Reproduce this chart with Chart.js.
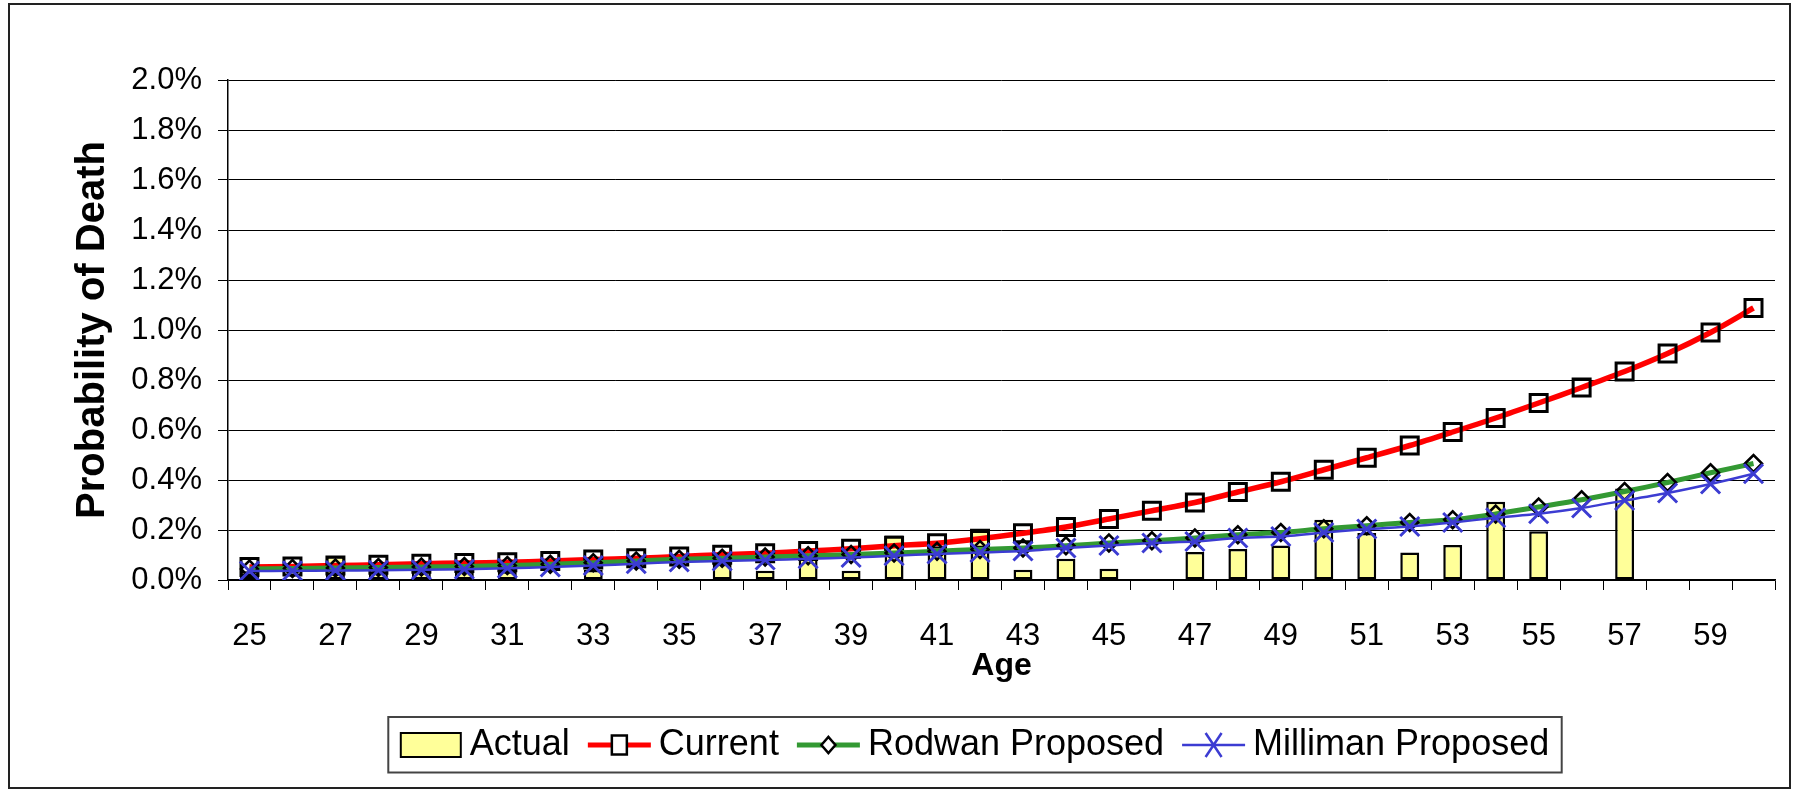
<!DOCTYPE html>
<html>
<head>
<meta charset="utf-8">
<title>Probability of Death by Age</title>
<script src="https://cdn.jsdelivr.net/npm/chart.js@4/dist/chart.umd.min.js"></script>
<style>
  html, body { margin: 0; padding: 0; background: #fff; }
  #wrap { width: 1799px; height: 792px; }
</style>
</head>
<body>
<div id="wrap"><canvas id="chart" width="1799" height="792"></canvas></div>
<script>
// Ages on the horizontal axis
const ages = ['25','26','27','28','29','30','31','32','33','34',
              '35','36','37','38','39','40','41','42','43','44',
              '45','46','47','48','49','50','51','52','53','54',
              '55','56','57','58','59','60'];

// Probability of death, in percent
const actual = [0.035, null, 0.095, 0.045, 0.045, 0.035, 0.035, null, 0.040, null,
                null, 0.065, 0.037, 0.094, 0.037, 0.178, 0.135, 0.198, 0.041, 0.085,
                0.045, null, 0.112, 0.124, 0.138, 0.241, 0.188, 0.110, 0.140, 0.313,
                0.195, null, 0.366, null, null, null];

const current = [0.052, 0.054, 0.058, 0.061, 0.065, 0.068, 0.071, 0.076, 0.082, 0.087,
                 0.094, 0.101, 0.107, 0.116, 0.125, 0.137, 0.147, 0.165, 0.187, 0.212,
                 0.244, 0.277, 0.310, 0.352, 0.393, 0.441, 0.489, 0.538, 0.592, 0.648,
                 0.708, 0.770, 0.834, 0.906, 0.990, 1.088];

const rodwan = [0.044, 0.046, 0.048, 0.050, 0.052, 0.054, 0.058, 0.063, 0.069, 0.076,
                0.083, 0.087, 0.092, 0.097, 0.102, 0.108, 0.115, 0.122, 0.128, 0.137,
                0.148, 0.157, 0.168, 0.181, 0.190, 0.205, 0.217, 0.230, 0.241, 0.264,
                0.292, 0.321, 0.354, 0.390, 0.429, 0.466];

const milliman = [0.036, 0.037, 0.038, 0.039, 0.041, 0.043, 0.047, 0.052, 0.058, 0.065,
                  0.072, 0.076, 0.080, 0.085, 0.090, 0.097, 0.104, 0.110, 0.116, 0.128,
                  0.138, 0.148, 0.154, 0.168, 0.174, 0.190, 0.204, 0.214, 0.230, 0.249,
                  0.265, 0.288, 0.318, 0.348, 0.384, 0.425];

const seriesNames = ['Actual', 'Current', 'Rodwan Proposed', 'Milliman Proposed'];

const FONT = "'Liberation Sans', Arial, Helvetica, sans-serif";
const YELLOW = '#FFFF99';
const RED = '#FF0000';
const GREEN = '#339933';
const BLUE = '#3C3CD2';

// White page, outer frame and the boxed legend under the plot
const framePlugin = {
  id: 'frameAndLegend',
  beforeDraw(chart) {
    const ctx = chart.ctx;
    ctx.save();
    ctx.fillStyle = '#fff';
    ctx.fillRect(0, 0, chart.width, chart.height);
    ctx.restore();
  },
  afterDraw(chart) {
    const ctx = chart.ctx;
    ctx.save();
    ctx.strokeStyle = '#222';
    ctx.lineWidth = 2;
    ctx.strokeRect(9, 4, 1781, 784);

    // legend
    ctx.font = '36px ' + FONT;
    const items = [
      { label: seriesNames[0], kind: 'box', sw: 60, gap: 9 },
      { label: seriesNames[1], kind: 'square', sw: 63, gap: 8 },
      { label: seriesNames[2], kind: 'diamond', sw: 63, gap: 8 },
      { label: seriesNames[3], kind: 'cross', sw: 63, gap: 8 }
    ];
    const itemGap = 18;
    let total = 0;
    items.forEach((it, i) => {
      it.tw = ctx.measureText(it.label).width;
      total += it.sw + it.gap + it.tw + (i ? itemGap : 0);
    });
    const cx = 975, cy = 745;
    const fx = cx - total / 2 - 12.5;
    ctx.strokeStyle = '#444';
    ctx.lineWidth = 2;
    ctx.strokeRect(fx, 717, total + 25, 55.5);

    let x = cx - total / 2;
    items.forEach((it, i) => {
      if (i) x += itemGap;
      const mx = x + it.sw / 2;
      if (it.kind === 'box') {
        ctx.fillStyle = YELLOW;
        ctx.fillRect(x, cy - 12, it.sw, 24);
        ctx.strokeStyle = '#000';
        ctx.lineWidth = 2;
        ctx.strokeRect(x, cy - 12, it.sw, 24);
      } else {
        ctx.beginPath();
        ctx.moveTo(x, cy);
        ctx.lineTo(x + it.sw, cy);
        ctx.lineWidth = it.kind === 'cross' ? 2.5 : 5;
        ctx.strokeStyle = it.kind === 'square' ? RED : (it.kind === 'diamond' ? GREEN : BLUE);
        ctx.stroke();
        ctx.beginPath();
        if (it.kind === 'square') {
          ctx.fillStyle = '#fff';
          ctx.rect(mx - 7.5, cy - 9.5, 15, 19);
          ctx.fill();
          ctx.strokeStyle = '#000';
          ctx.lineWidth = 2.5;
          ctx.stroke();
        } else if (it.kind === 'diamond') {
          ctx.moveTo(mx - 7, cy);
          ctx.lineTo(mx, cy - 8);
          ctx.lineTo(mx + 7, cy);
          ctx.lineTo(mx, cy + 8);
          ctx.closePath();
          ctx.fillStyle = '#fff';
          ctx.fill();
          ctx.strokeStyle = '#000';
          ctx.lineWidth = 2.5;
          ctx.stroke();
        } else {
          ctx.moveTo(mx - 8, cy - 12);
          ctx.lineTo(mx + 8, cy + 12);
          ctx.moveTo(mx + 8, cy - 12);
          ctx.lineTo(mx - 8, cy + 12);
          ctx.strokeStyle = BLUE;
          ctx.lineWidth = 2.5;
          ctx.stroke();
        }
      }
      x += it.sw + it.gap;
      ctx.fillStyle = '#000';
      ctx.textAlign = 'left';
      ctx.textBaseline = 'middle';
      ctx.fillText(it.label, x, cy);
      x += it.tw;
    });
    ctx.restore();
  }
};

new Chart(document.getElementById('chart'), {
  type: 'bar',
  data: {
    labels: ages,
    datasets: [
      {
        type: 'line',
        label: seriesNames[3],
        data: milliman,
        order: 1,
        borderColor: BLUE,
        borderWidth: 2.5,
        tension: 0.2,
        pointStyle: 'crossRot',
        pointRadius: 13.5,
        pointBorderWidth: 3,
        pointBorderColor: BLUE,
        pointBackgroundColor: BLUE
      },
      {
        type: 'line',
        label: seriesNames[2],
        data: rodwan,
        order: 2,
        borderColor: GREEN,
        borderWidth: 5,
        tension: 0.3,
        pointStyle: 'rectRot',
        pointRadius: 8.5,
        pointBorderWidth: 2.5,
        pointBorderColor: '#000',
        pointBackgroundColor: 'rgba(0,0,0,0)'
      },
      {
        type: 'line',
        label: seriesNames[1],
        data: current,
        order: 3,
        borderColor: RED,
        borderWidth: 5.5,
        tension: 0.3,
        pointStyle: 'rect',
        pointRadius: 12,
        pointBorderWidth: 3,
        pointBorderColor: '#000',
        pointBackgroundColor: 'rgba(0,0,0,0)'
      },
      {
        type: 'bar',
        label: seriesNames[0],
        data: actual,
        order: 4,
        backgroundColor: YELLOW,
        borderColor: '#000',
        borderWidth: 2.5,
        borderSkipped: false,
        categoryPercentage: 1,
        barPercentage: 0.44
      }
    ]
  },
  options: {
    responsive: false,
    animation: false,
    devicePixelRatio: 1,
    layout: { padding: { left: 10, right: 24, top: 80, bottom: 110 } },
    plugins: {
      legend: { display: false },
      tooltip: { enabled: false }
    },
    scales: {
      x: {
        offset: true,
        grid: {
          display: true,
          offset: true,
          drawOnChartArea: false,
          drawTicks: true,
          tickLength: 10,
          color: '#000'
        },
        border: { display: true, color: '#000', width: 1.5 },
        ticks: {
          autoSkip: false,
          maxRotation: 0,
          color: '#000',
          padding: 28,
          font: { family: FONT, size: 31 },
          callback: function (value, index) {
            return index % 2 === 0 ? this.getLabelForValue(value) : '';
          }
        },
        title: {
          display: true,
          text: 'Age',
          color: '#000',
          font: { family: FONT, size: 32, weight: 'bold', lineHeight: 1 },
          padding: { top: 0, bottom: 0 }
        },
        afterFit: (scale) => { scale.height = 102; }
      },
      y: {
        min: 0,
        max: 2.0,
        grid: {
          color: '#000',
          lineWidth: 1,
          drawTicks: true,
          tickLength: 10
        },
        border: { display: true, color: '#000', width: 1.5 },
        ticks: {
          stepSize: 0.2,
          color: '#000',
          padding: 16,
          font: { family: FONT, size: 31 },
          callback: (v) => Number(v).toFixed(1) + '%'
        },
        title: {
          display: true,
          text: 'Probability of Death',
          color: '#000',
          font: { family: FONT, size: 40, weight: 'bold', lineHeight: 1 },
          padding: { top: 63, bottom: 0 }
        },
        afterFit: (scale) => { scale.width = 218; }
      }
    }
  },
  plugins: [framePlugin]
});
</script>
</body>
</html>
